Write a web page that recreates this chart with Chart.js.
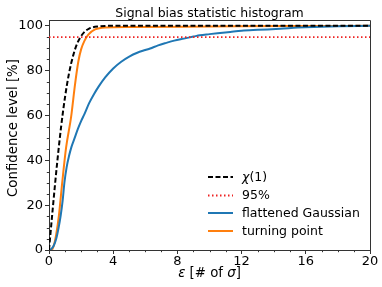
<!DOCTYPE html>
<html>
<head>
<meta charset="utf-8">
<script src="https://cdn.jsdelivr.net/npm/chart.js@4.4.1/dist/chart.umd.min.js"></script>
<style>
  html, body { margin: 0; padding: 0; background: #fff; }
  #wrap { width: 382px; height: 287px; }
</style>
</head>
<body>
<div id="wrap"><canvas id="chart" width="382" height="287"></canvas></div>
<script>
// values
const chiX = [0, 0.25, 0.5, 0.75, 1.0, 1.25, 1.5, 1.75, 2.0, 2.25, 2.5, 2.75, 3.0, 3.5, 4.0, 20];
const chiY = [0, 19.7, 38.3, 54.7, 68.3, 78.9, 86.6, 92.0, 95.4, 97.6, 98.8, 99.4, 99.7, 99.95, 100, 100];

const flatX = [0, 0.15, 0.3, 0.45, 0.6, 0.73, 0.85, 0.96, 1.1, 1.25, 1.4, 1.6, 1.8, 2.0, 2.2, 2.5, 2.8, 3.1, 3.5, 4.0,
               4.5, 5.0, 5.5, 6.0, 6.3, 6.8, 7.3, 7.8, 8.4, 9.0, 9.4, 10.0, 10.5, 11.3, 12, 13, 14.4, 15.5, 16.5, 18, 20];
const flatY = [0, 0.5, 2, 5, 10, 15.5, 22, 30, 37, 42, 46, 50, 54, 57.5, 60.5, 65.5, 69.5, 73, 77, 81,
               84, 86.3, 88, 89.2, 89.9, 91.3, 92.4, 93.4, 94.3, 95.2, 95.8, 96.3, 96.7, 97.3, 97.8, 98.2, 98.7, 99.2, 99.5, 99.8, 100];

const turnX = [0, 0.17, 0.3, 0.45, 0.62, 0.83, 1.06, 1.38, 1.62, 1.83, 2.0, 2.2, 2.45, 2.87, 3.5, 5, 10, 15, 20];
const turnY = [0, 0, 2, 7, 15.6, 30.5, 45.4, 59.5, 73.8, 84.2, 89.5, 93.2, 96.1, 98.4, 99.3, 99.5, 99.7, 99.9, 100];

const levelX = [0, 20];
const levelY = [95, 95];

const xTicks = [0, 4, 8, 12, 16, 20];
const yTicks = [0, 20, 40, 60, 80, 100];

const FONT = "DejaVu Sans";
const FS = 12.5;      // title, legend
const FS_TICK = 13;
const FS_LABEL = 13.3;

function pts(xs, ys) {
    return xs.map((x, i) => ({ x: x, y: ys[i] }));
}

const legendItems = [
    { label: [["χ", true], ["(1)", false]], color: "#000000", dash: [5, 2.5], width: 2 },
    { label: [["95%", false]], color: "#ee2222", dash: [1.5, 2.5], width: 1.8 },
    { label: [["flattened Gaussian", false]], color: "#1f77b4", dash: [], width: 2 },
    { label: [["turning point", false]], color: "#ff7f0e", dash: [], width: 2 },
];

function drawRich(ctx, parts, x, y, align, size) {
    const fs = size || FS;
    let total = 0;
    const widths = parts.map(([t, it]) => {
        ctx.font = (it ? "italic " : "") + fs + "px '" + FONT + "'";
        const w = ctx.measureText(t).width;
        total += w;
        return w;
    });
    let cx = align === "center" ? x - total / 2 : x;
    parts.forEach(([t, it], i) => {
        ctx.font = (it ? "italic " : "") + fs + "px '" + FONT + "'";
        ctx.textAlign = "left";
        ctx.fillText(t, cx, y);
        cx += widths[i];
    });
}

const decorations = {
    id: "decorations",
    afterDraw(chart) {
        const ctx = chart.ctx;
        const a = chart.chartArea;
        const xs = chart.scales.x, ys = chart.scales.y;
        ctx.save();
        // frame top and right
        ctx.strokeStyle = "#333";
        ctx.lineWidth = 1;
        ctx.beginPath();
        ctx.moveTo(a.left, a.top + 0.5);
        ctx.lineTo(a.right + 0.5, a.top + 0.5);
        ctx.lineTo(a.right + 0.5, a.bottom);
        ctx.stroke();
        // minor ticks
        ctx.beginPath();
        for (let v = 1; v < 20; v++) {
            if (v % 4 === 0) continue;
            const px = Math.round(xs.getPixelForValue(v)) + 0.5;
            ctx.moveTo(px, a.bottom);
            ctx.lineTo(px, a.bottom + 2.2);
        }
        for (let v = 5; v < 102; v += 5) {
            if (v % 20 === 0) continue;
            const py = Math.round(ys.getPixelForValue(v)) + 0.5;
            ctx.moveTo(a.left, py);
            ctx.lineTo(a.left - 2.2, py);
        }
        ctx.stroke();

        ctx.fillStyle = "#000";
        ctx.textBaseline = "alphabetic";
        // title
        drawRich(ctx, [["Signal bias statistic histogram", false]], (a.left + a.right) / 2, 17, "center");
        // x title
        drawRich(ctx, [["ε", true], [" [# of ", false], ["σ", true], ["]", false]], (a.left + a.right) / 2, 277, "center", FS_LABEL);
        // y title
        ctx.save();
        ctx.translate(17, 128);
        ctx.rotate(-Math.PI / 2);
        drawRich(ctx, [["Confidence level [%]", false]], 0, 0, "center", FS_LABEL);
        ctx.restore();

        // legend
        const lx0 = 208, lx1 = 233, tx = 242;
        const rows = [177, 195.5, 213, 231];
        legendItems.forEach((it, i) => {
            const y = rows[i];
            ctx.strokeStyle = it.color;
            ctx.lineWidth = it.width;
            ctx.setLineDash(it.dash);
            ctx.beginPath();
            ctx.moveTo(lx0, y);
            ctx.lineTo(lx1, y);
            ctx.stroke();
            ctx.setLineDash([]);
            ctx.fillStyle = "#000";
            ctx.textBaseline = "middle";
            drawRich(ctx, it.label, tx, y + 0.5, "left");
        });
        ctx.restore();
    }
};

const lineDefaults = { fill: false, pointRadius: 0, cubicInterpolationMode: "monotone", borderWidth: 2 };

new Chart(document.getElementById("chart"), {
    type: "line",
    data: {
        datasets: [
            Object.assign({ label: "χ(1)", data: pts(chiX, chiY), borderColor: "#000000", borderDash: [5, 2.5] }, lineDefaults),
            Object.assign({ label: "95%", data: pts(levelX, levelY), borderColor: "#ee2222", borderDash: [1.5, 2.5] }, lineDefaults, { borderWidth: 1.8 }),
            Object.assign({ label: "flattened Gaussian", data: pts(flatX, flatY), borderColor: "#1f77b4" }, lineDefaults),
            Object.assign({ label: "turning point", data: pts(turnX, turnY), borderColor: "#ff7f0e" }, lineDefaults),
        ]
    },
    options: {
        responsive: false,
        animation: false,
        devicePixelRatio: 1,
        layout: { padding: { left: 0, right: 12, top: 20, bottom: 0 } },
        plugins: { legend: { display: false }, tooltip: { enabled: false }, title: { display: false } },
        scales: {
            x: {
                type: "linear",
                min: 0, max: 20,
                afterBuildTicks: s => { s.ticks = xTicks.map(v => ({ value: v })); },
                afterFit: s => { s.height = 37; },
                grid: { drawOnChartArea: false, drawTicks: true, tickLength: 4, color: "#333", tickWidth: 1 },
                border: { display: true, color: "#333", width: 1 },
                ticks: { color: "#000", font: { family: FONT, size: FS_TICK }, padding: 0, maxRotation: 0 }
            },
            y: {
                type: "linear",
                min: 0, max: 102.6,
                afterBuildTicks: s => { s.ticks = yTicks.map(v => ({ value: v })); },
                afterFit: s => { s.width = 49; },
                grid: { drawOnChartArea: false, drawTicks: true, tickLength: 4, color: "#333", tickWidth: 1 },
                border: { display: true, color: "#333", width: 1 },
                ticks: { color: "#000", font: { family: FONT, size: FS_TICK }, padding: 2 }
            }
        }
    },
    plugins: [decorations]
});
</script>
</body>
</html>
